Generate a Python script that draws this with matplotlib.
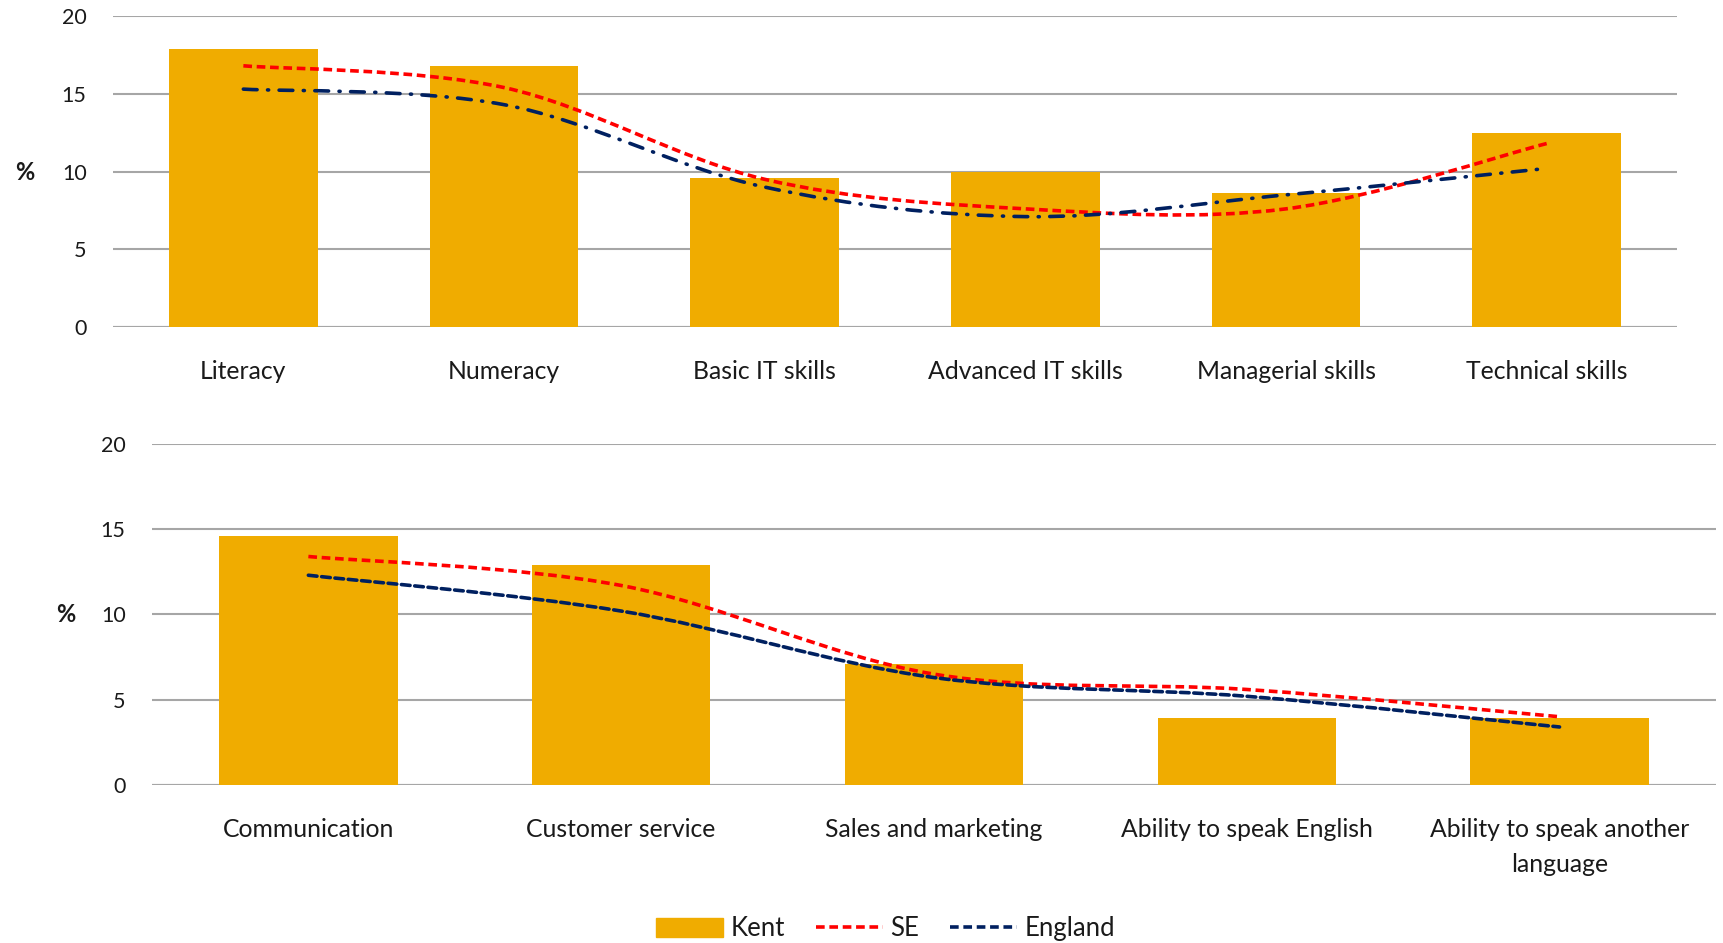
import matplotlib
matplotlib.use("Agg")
from matplotlib import pyplot as plt
from matplotlib.path import Path
from matplotlib.patches import PathPatch, Patch
from matplotlib.lines import Line2D
import numpy as np

plt.rcParams['font.family'] = ['Lato', 'DejaVu Sans']

top_labels = ["Literacy", "Numeracy", "Basic IT skills", "Advanced IT skills",
              "Managerial skills", "Technical skills"]
top_kent = [17.9, 16.8, 9.6, 10.0, 8.6, 12.5]
top_se = [16.8, 15.4, 9.5, 7.6, 7.6, 11.8]
top_england = [15.3, 14.3, 9.0, 7.1, 8.5, 10.2]

bot_labels = ["Communication", "Customer service", "Sales and marketing",
              "Ability to speak English", "Ability to speak another\nlanguage"]
bot_kent = [14.6, 12.9, 7.1, 3.9, 3.9]
bot_se = [13.4, 11.7, 6.5, 5.6, 4.0]
bot_england = [12.3, 10.2, 6.3, 5.2, 3.4]

KENT = "#F0AC00"
SE = "#FF0000"
ENG = "#002060"
GRID = "#A6A6A6"
TXT = "#1a1a1a"

LW = 2.6
SE_DASH = (0, (2.4, 1.3))
ENG_DASHDOT = (0, (3.8, 2.9, 0.3, 2.9))


def smooth_path(xs, ys):
    # Excel-like smoothed line: cubic bezier through the points
    pts = np.column_stack([xs, ys]).astype(float)
    n = len(pts)
    verts = [pts[0]]
    codes = [Path.MOVETO]
    for i in range(n - 1):
        p0 = pts[i - 1] if i > 0 else pts[i]
        p1 = pts[i]
        p2 = pts[i + 1]
        p3 = pts[i + 2] if i + 2 < n else pts[i + 1]
        c1 = p1 + (p2 - p0) / 6.0
        c2 = p2 - (p3 - p1) / 6.0
        verts += [c1, c2, p2]
        codes += [Path.CURVE4] * 3
    return Path(verts, codes)


def panel(ax, labels, kent, se, eng, eng_style):
    x = np.arange(len(labels))
    ax.bar(x, kent, width=0.57, color=KENT, zorder=2)
    ax.add_patch(PathPatch(smooth_path(x, se), fill=False, edgecolor=SE,
                           lw=LW, linestyle=SE_DASH, capstyle='butt', zorder=3))
    ax.add_patch(PathPatch(smooth_path(x, eng), fill=False, edgecolor=ENG,
                           lw=LW, linestyle=eng_style, capstyle='round', zorder=3))
    ax.set_xlim(-0.5, len(labels) - 0.5)
    ax.set_ylim(0, 20)
    ax.set_yticks([0, 5, 10, 15, 20])
    ax.yaxis.grid(True, color=GRID, lw=1.5, zorder=0)
    ax.set_axisbelow(True)
    for s in ax.spines.values():
        s.set_visible(False)
    ax.axhline(0, color=GRID, lw=1.5, zorder=1)
    ax.set_xticks(x)
    ax.set_xticklabels(labels, fontsize=17.8, color=TXT, linespacing=1.6)
    ax.tick_params(axis='both', length=0, colors=TXT)
    ax.tick_params(axis='x', pad=24)
    ax.tick_params(axis='y', labelsize=15.5, pad=19)


fig = plt.figure(figsize=(17.23, 9.43), dpi=100)

ax1 = fig.add_axes([0.0656, 0.6532, 0.9077, 0.3298])
panel(ax1, top_labels, top_kent, top_se, top_england, ENG_DASHDOT)
fig.text(0.0145, 0.817, "%", fontsize=17, fontweight='bold', color=TXT,
         ha='center', va='center')

ax2 = fig.add_axes([0.0882, 0.1676, 0.9077, 0.3616])
panel(ax2, bot_labels, bot_kent, bot_se, bot_england, SE_DASH)
fig.text(0.038, 0.348, "%", fontsize=17, fontweight='bold', color=TXT,
         ha='center', va='center')

handles = [Patch(color=KENT, label="Kent"),
           Line2D([], [], color=SE, lw=LW, linestyle=SE_DASH, label="SE"),
           Line2D([], [], color=ENG, lw=LW, linestyle=SE_DASH, label="England")]
fig.legend(handles=handles, loc='center', bbox_to_anchor=(0.514, 0.015),
           ncol=3, frameon=False, fontsize=18.5, handlelength=2.6,
           handleheight=0.8, columnspacing=1.2, handletextpad=0.3,
           labelcolor=TXT)

fig.savefig("out.png", dpi=100)
